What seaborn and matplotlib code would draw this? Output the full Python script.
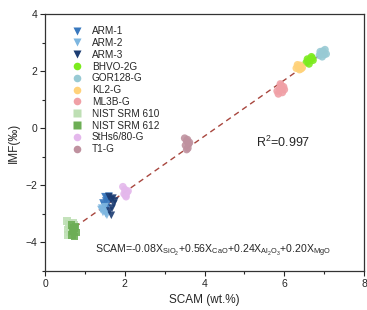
import numpy as np
import pandas as pd
import matplotlib
matplotlib.use("Agg")
import matplotlib.pyplot as plt
import seaborn as sns

# measured SCAM (wt.%) and IMF (permil) per reference material
arm1_x = [1.50, 1.55, 1.60, 1.52, 1.58, 1.48, 1.62, 1.55, 1.45]
arm1_y = [-2.40, -2.45, -2.38, -2.55, -2.60, -2.70, -2.50, -2.80, -2.62]
arm2_x = [1.42, 1.48, 1.52, 1.45, 1.55, 1.50, 1.40]
arm2_y = [-2.80, -2.90, -3.00, -2.95, -3.05, -2.75, -2.85]
arm3_x = [1.60, 1.65, 1.70, 1.72, 1.68, 1.62, 1.75, 1.66]
arm3_y = [-2.40, -2.50, -2.45, -2.65, -2.80, -2.90, -2.55, -3.05]
bhvo_x = [6.55, 6.60, 6.65, 6.70, 6.62, 6.68, 6.58, 6.72]
bhvo_y = [2.30, 2.35, 2.40, 2.45, 2.25, 2.50, 2.42, 2.38]
gor_x = [6.88, 6.92, 6.97, 7.02, 7.05, 6.95, 6.90, 7.00]
gor_y = [2.55, 2.62, 2.70, 2.75, 2.60, 2.50, 2.68, 2.58]
kl2_x = [6.30, 6.35, 6.40, 6.45, 6.38, 6.33, 6.42]
kl2_y = [2.10, 2.15, 2.20, 2.12, 2.05, 2.22, 2.08]
ml3b_x = [5.82, 5.88, 5.92, 5.98, 5.85, 5.95, 5.90, 6.00]
ml3b_y = [1.30, 1.40, 1.50, 1.45, 1.20, 1.25, 1.55, 1.35]
nist610_x = [0.55, 0.60, 0.65, 0.70, 0.58, 0.62, 0.72, 0.56, 0.68]
nist610_y = [-3.25, -3.35, -3.45, -3.30, -3.55, -3.65, -3.40, -3.75, -3.60]
nist612_x = [0.66, 0.72, 0.76, 0.70, 0.78, 0.68, 0.74]
nist612_y = [-3.40, -3.50, -3.45, -3.60, -3.65, -3.75, -3.80]
sths_x = [1.95, 2.00, 2.05, 2.02, 1.98, 2.08, 2.03]
sths_y = [-2.05, -2.15, -2.25, -2.35, -2.30, -2.20, -2.40]
t1g_x = [3.50, 3.55, 3.60, 3.52, 3.58, 3.62, 3.55, 3.57]
t1g_y = [-0.35, -0.45, -0.55, -0.60, -0.70, -0.50, -0.75, -0.40]

groups = ["ARM-1", "ARM-2", "ARM-3", "BHVO-2G", "GOR128-G", "KL2-G", "ML3B-G",
          "NIST SRM 610", "NIST SRM 612", "StHs6/80-G", "T1-G"]
xs = [arm1_x, arm2_x, arm3_x, bhvo_x, gor_x, kl2_x, ml3b_x, nist610_x, nist612_x, sths_x, t1g_x]
ys = [arm1_y, arm2_y, arm3_y, bhvo_y, gor_y, kl2_y, ml3b_y, nist610_y, nist612_y, sths_y, t1g_y]

colors = ["#3878BE", "#7DB6E0", "#1C3C72", "#7CEB1E", "#98CAD4", "#FFD27A", "#F0A0A6",
          "#BEDFB4", "#6DAE55", "#E4B8EC", "#BF919F"]
markers = ["v", "v", "v", "o", "o", "o", "o", "s", "s", "o", "o"]

df = pd.DataFrame({
    "SCAM": np.concatenate(xs),
    "IMF": np.concatenate(ys),
    "Sample": np.repeat(groups, [len(x) for x in xs]),
})

sns.set_style("ticks")
plt.rcParams["font.family"] = ["Liberation Sans", "DejaVu Sans"]
plt.rcParams["mathtext.fontset"] = "custom"
plt.rcParams["mathtext.rm"] = "Liberation Sans"
plt.rcParams["mathtext.it"] = "Liberation Sans:italic"

fig = plt.figure(figsize=(3.67, 3.10), dpi=100)
ax = fig.add_axes([0.123, 0.126, 0.869, 0.829])

# regression line through all points
sns.regplot(data=df, x="SCAM", y="IMF", scatter=False, ci=None, ax=ax,
            line_kws=dict(color="#A8463E", lw=1.0, ls=(0, (4, 3))))

sns.scatterplot(data=df, x="SCAM", y="IMF", hue="Sample", style="Sample",
                hue_order=groups, style_order=groups,
                palette=dict(zip(groups, colors)), markers=dict(zip(groups, markers)),
                s=30, alpha=0.9, edgecolor="none", ax=ax, zorder=3)

ax.set_xlim(0, 8)
ax.set_ylim(-5, 4)
ax.set_xticks([0, 2, 4, 6, 8])
ax.set_yticks([-4, -2, 0, 2, 4])
ax.set_xticks([1, 3, 5, 7], minor=True)
ax.set_yticks([-5, -3, -1, 1, 3], minor=True)
ax.tick_params(which="major", length=3.5, width=0.8, labelsize=7.5, pad=2)
ax.tick_params(which="minor", length=2, width=0.8)
for sp in ax.spines.values():
    sp.set_linewidth(0.9)
    sp.set_color("#333333")

ax.set_xlabel("SCAM (wt.%)", fontsize=8.5, labelpad=4)
ax.set_ylabel("IMF(‰)", fontsize=8.5, labelpad=4)

ax.text(5.3, -0.5, r"R$^2$=0.997", fontsize=9, va="center")
ax.text(1.25, -4.28,
        r"SCAM=-0.08X$_{\mathrm{SiO_2}}$+0.56X$_{\mathrm{CaO}}$+0.24X$_{\mathrm{Al_2O_3}}$+0.20X$_{\mathrm{MgO}}$",
        fontsize=7.6, va="center")

leg = ax.legend(loc="upper left", bbox_to_anchor=(0.055, 0.968), frameon=False,
                fontsize=7.2, labelspacing=0.18, handletextpad=0.5, borderaxespad=0,
                markerscale=1.0)
for h in leg.legend_handles:
    h.set_alpha(1)

fig.savefig("out.png", dpi=100)
